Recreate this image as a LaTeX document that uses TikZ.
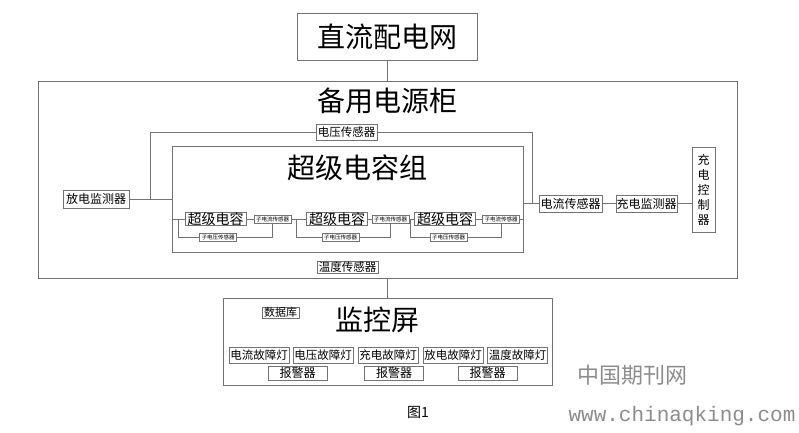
\documentclass[tikz,border=0pt]{standalone}
\usepackage{fontspec}
\setmainfont{Noto Sans CJK SC}
\newfontfamily\urlfont{Liberation Mono}
\definecolor{linegray}{gray}{0.45}
\definecolor{markgray}{gray}{0.55}

\begin{document}
\begin{tikzpicture}[x=1pt,y=-1pt,
        blk/.style={draw=linegray,line width=.7pt,inner sep=0pt},
        sz/.style={font=\fontsize{#1}{#1}\selectfont},
        wire/.style={draw=linegray,line width=.7pt}]
        \useasboundingbox (0,0) rectangle (799,432);
        % top and cabinet
        \node[blk,sz=28,minimum width=180,minimum height=47] (grid) at (387,36.5) {直流配电网};
        \node[blk,minimum width=699,minimum height=197] (cab) at (387.5,179.5) {};
        \node[sz=28] (cabt) at (387,101) {备用电源柜};
        \node[blk,minimum width=351,minimum height=106] (grp) at (347.5,199) {};
        \node[sz=28] (grpt) at (357,168) {超级电容组};
        \node[blk,sz=11.5,minimum width=61,minimum height=16] (vs) at (346.5,132) {电压传感器};
        \node[blk,sz=12,minimum width=66,minimum height=18] (fm) at (96,199) {放电监测器};
        \node[blk,sz=12,minimum width=63,minimum height=17] (cs) at (570.5,203.5) {电流传感器};
        \node[blk,sz=12,minimum width=61,minimum height=17] (cm) at (646.5,203.5) {充电监测器};
        \node[blk,font=\fontsize{12}{15}\selectfont,align=center,minimum width=23,minimum height=85] (cc) at (703.5,189.5) {充\\电\\控\\制\\器};
        \node[blk,sz=11.5,minimum width=61,minimum height=12] (ts) at (347.5,267) {温度传感器};
        \coordinate (jl) at (150,199);
        \coordinate (jr) at (532,203.5);
        \draw[wire] (grid.south) -- (grid.south|-cab.north);
        \draw[wire] (fm) -- (fm-|grp.west);
        \draw[wire] (jl) |- (vs.west) (vs.east) -| (jr);
        \draw[wire] (cs.west-|grp.east) -- (cs) -- (cm) -- (cm-|cc.west);
        % capacitor units
        \foreach \i/\cx/\ix/\vx/\bx in {1/215.5/272.5/218/178,2/337/390.5/340.5/296,3/445/501/448.5/410} {
            \node[blk,sz=14,minimum width=61,minimum height=13] (cap\i) at (\cx,219) {超级电容};
            \node[blk,sz=5.5,minimum width=37,minimum height=8] (isc\i) at (\ix,219) {子电流传感器};
            \node[blk,sz=5.5,minimum width=37,minimum height=8] (isv\i) at (\vx,237.5) {子电压传感器};
            \coordinate (br\i) at (\bx,219);
            \draw[wire] (br\i) |- (isv\i.west) (isv\i.east) -| (isc\i.south);
        }
        \draw[wire] (grp.west|-cap1) -- (cap1) -- (isc1) -- (cap2) -- (isc2) -- (cap3) -- (isc3) -- (isc3-|grp.east);
        % monitor
        \node[blk,minimum width=329,minimum height=87] (mon) at (387.5,341.5) {};
        \node[sz=28] (mont) at (377,320) {监控屏};
        \node[blk,sz=11,minimum width=37,minimum height=11] (db) at (280.5,312.5) {数据库};
        \draw[wire] (cab.south) -- (cab.south|-mon.north);
        \foreach \i/\lx/\t in {1/259/电流故障灯,2/323/电压故障灯,3/388/充电故障灯,4/453/放电故障灯,5/517.5/温度故障灯} {
            \node[blk,sz=11.5,minimum width=60,minimum height=16] (lamp\i) at (\lx,355) {\t};
        }
        \foreach \i/\ax in {1/297.5,2/394,3/487.5} {
            \node[blk,sz=12,minimum width=59,minimum height=14] (alm\i) at (\ax,373) {报警器};
        }
        \node[sz=14] (fig) at (418,412) {图1};
        \node[text=markgray,sz=22] (wm) at (632,375) {中国期刊网};
        \node[text=markgray,font=\urlfont\fontsize{21}{21}\selectfont] (url) at (682,416) {www.chinaqking.com};
\end{tikzpicture}
\end{document}
